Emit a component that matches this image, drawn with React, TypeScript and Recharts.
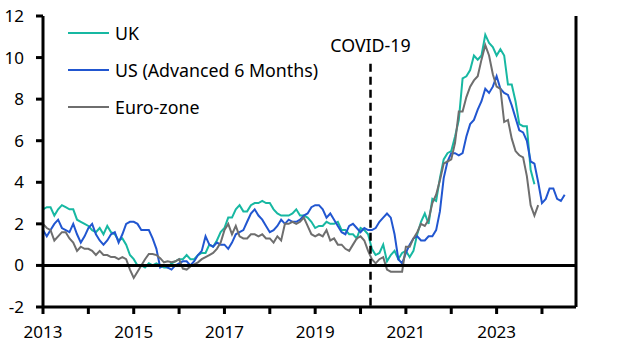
import React from "react";
import { Line, LineChart, ReferenceLine, XAxis, YAxis } from "recharts";

// monthly, first point = Jan 2013
const ukCpi = [
  2.7, 2.8, 2.8, 2.4, 2.7, 2.9, 2.8, 2.7, 2.7, 2.2, 2.1, 2.0,
  1.9, 1.7, 1.6, 1.8, 1.5, 1.9, 1.6, 1.5, 1.2, 1.3, 1.0, 0.5,
  0.3, 0.0, 0.0, -0.1, 0.1, 0.0, 0.1, 0.0, -0.1, -0.1, 0.1, 0.2,
  0.3, 0.3, 0.5, 0.3, 0.3, 0.5, 0.6, 0.6, 1.0, 0.9, 1.2, 1.6,
  1.8, 2.3, 2.3, 2.7, 2.9, 2.6, 2.6, 2.9, 3.0, 3.0, 3.1, 3.0,
  3.0, 2.7, 2.5, 2.4, 2.4, 2.4, 2.5, 2.7, 2.4, 2.4, 2.3, 2.1,
  1.8, 1.9, 1.9, 2.1, 2.0, 2.0, 2.1, 1.7, 1.7, 1.5, 1.5, 1.3,
  1.8, 1.7, 1.5, 0.8, 0.5, 0.6, 1.0, 0.2, 0.5, 0.7, 0.3, 0.6,
  0.7, 0.4, 0.7, 1.5, 2.1, 2.5, 2.0, 3.2, 3.1, 4.2, 5.1, 5.4,
  5.5, 6.2, 7.0, 9.0, 9.1, 9.4, 10.1, 9.9, 10.1, 11.1, 10.7, 10.5,
  10.1, 10.4, 10.1, 8.7, 8.7, 7.9, 6.8, 6.7, 6.7, 4.6, 3.9
];

const usCpiAdvanced = [
  1.7, 1.4, 1.7, 2.0, 2.2, 1.8, 1.7, 1.6, 2.0, 1.5, 1.1, 1.4,
  1.8, 2.0, 1.5, 1.2, 1.0, 1.2, 1.5, 1.6, 1.1, 1.5, 2.0, 2.1,
  2.1, 2.0, 1.7, 1.7, 1.7, 1.3, 0.8, -0.1, 0.0, -0.1, -0.2, 0.0,
  0.1, 0.2, 0.2, 0.0, 0.2, 0.5, 0.7, 1.4, 1.0, 0.9, 1.1, 1.0,
  1.0, 0.8, 1.1, 1.5, 1.6, 1.7, 2.1, 2.5, 2.7, 2.4, 2.2, 1.9,
  1.6, 1.7, 1.9, 2.2, 2.0, 2.2, 2.1, 2.1, 2.2, 2.4, 2.5, 2.8,
  2.9, 2.9, 2.7, 2.3, 2.5, 2.2, 1.9, 1.6, 1.5, 1.9, 2.0, 1.8,
  1.6, 1.8, 1.7, 1.7, 1.8, 2.1, 2.3, 2.5, 2.3, 1.5, 0.3, 0.1,
  0.6, 1.0, 1.3, 1.4, 1.2, 1.2, 1.4, 1.4, 1.7, 2.6, 4.2, 5.0,
  5.4, 5.4, 5.3, 5.4, 6.2, 6.8, 7.0, 7.5, 7.9, 8.5, 8.3, 8.6,
  9.1, 8.5, 8.3, 8.2, 7.7, 7.1, 6.5, 6.4, 6.0, 5.0, 4.9, 4.0,
  3.0, 3.2, 3.7, 3.7, 3.2, 3.1, 3.4
];

const ezHicp = [
  2.0, 1.8, 1.7, 1.2, 1.4, 1.6, 1.6, 1.3, 1.1, 0.7, 0.9, 0.8,
  0.8, 0.7, 0.5, 0.7, 0.5, 0.5, 0.4, 0.4, 0.3, 0.4, 0.3, -0.2,
  -0.6, -0.3, 0.0, 0.3, 0.55, 0.55, 0.5, 0.35, 0.15, 0.2, 0.15, 0.2,
  0.3, -0.15, -0.2, -0.05, 0.05, 0.15, 0.3, 0.4, 0.5, 0.6, 0.8, 1.1,
  1.7, 2.0, 1.5, 1.9, 1.4, 1.3, 1.3, 1.5, 1.5, 1.4, 1.5, 1.3,
  1.3, 1.1, 1.4, 1.2, 2.0, 2.0, 2.1, 2.0, 2.1, 2.3, 1.9, 1.5,
  1.4, 1.5, 1.4, 1.7, 1.2, 1.3, 1.0, 1.0, 0.8, 0.7, 1.0, 1.3,
  1.4, 1.2, 0.7, 0.3, 0.1, 0.3, 0.4, -0.2, -0.3, -0.3, -0.3, -0.3,
  0.9, 0.9, 1.3, 1.6, 2.0, 1.9, 2.2, 3.0, 3.4, 4.1, 4.9, 5.0,
  5.1, 5.9, 7.4, 7.4, 8.1, 8.6, 8.9, 9.1, 9.9, 10.6, 10.1, 9.2,
  8.6, 8.5, 6.9, 7.0, 6.1, 5.5, 5.3, 5.2, 4.3, 2.9, 2.4, 2.9
];

const startYear = 2013;
const yearTicks = [2013, 2014, 2015, 2016, 2017, 2018, 2019, 2020, 2021, 2022, 2023, 2024];
const yTicks = [-2, 0, 2, 4, 6, 8, 10, 12];
const covidDate = 2020.22;

const series = [
  { key: "uk", name: "UK", color: "#17b8a2" },
  { key: "us", name: "US (Advanced 6 Months)", color: "#2156d0" },
  { key: "ez", name: "Euro-zone", color: "#6e6e6e" }
];

const n = Math.max(ukCpi.length, usCpiAdvanced.length, ezHicp.length);
const data = Array.from({ length: n }, (_, i) => ({
  t: startYear + i / 12,
  uk: ukCpi[i],
  us: usCpiAdvanced[i],
  ez: ezHicp[i]
}));

const font = "'Noto Sans', sans-serif";
const tickStyle = { fill: "#000", fontSize: 17, fontFamily: font };
const axisStroke = { stroke: "#000", strokeWidth: 3 };

function LegendBox() {
  return (
    <div style={{ position: "absolute", left: 68, top: 14, fontFamily: font, fontSize: 17.8, color: "#000" }}>
      {series.map((s) => (
        <div key={s.key} style={{ display: "flex", alignItems: "center", height: 37 }}>
          <div style={{ width: 41, height: 2, background: s.color, marginRight: 6 }} />
          <span>{s.name}</span>
        </div>
      ))}
    </div>
  );
}

export default function App() {
  return (
    <div style={{ position: "absolute", left: 0, top: 0, width: 627, height: 352, background: "#fff" }}>
      <LineChart width={627} height={352} data={data} margin={{ top: 16, right: 0, bottom: 0, left: 0 }}>
        <XAxis
          dataKey="t"
          type="number"
          domain={[2013, 2024.75]}
          ticks={yearTicks}
          tickFormatter={(v: number) => (v % 2 === 1 ? String(v) : "")}
          interval={0}
          height={45}
          tickSize={7}
          tickMargin={12}
          axisLine={axisStroke}
          tickLine={axisStroke}
          tick={tickStyle}
        />
        <YAxis
          yAxisId="left"
          domain={[-2, 12]}
          ticks={yTicks}
          width={43}
          tickSize={7}
          tickMargin={12}
          axisLine={axisStroke}
          tickLine={axisStroke}
          tick={tickStyle}
        />
        <YAxis
          yAxisId="right"
          orientation="right"
          domain={[-2, 12]}
          ticks={yTicks}
          width={51}
          tickSize={7}
          tickMargin={12}
          axisLine={axisStroke}
          tickLine={axisStroke}
          tick={tickStyle}
        />
        {series.map((s) => (
          <Line
            key={s.key}
            yAxisId="left"
            dataKey={s.key}
            name={s.name}
            stroke={s.color}
            strokeWidth={2}
            dot={false}
            activeDot={false}
            isAnimationActive={false}
          />
        ))}
        <ReferenceLine yAxisId="left" y={0} stroke="#000" strokeWidth={3} />
        <ReferenceLine
          yAxisId="left"
          segment={[{ x: covidDate, y: 9.7 }, { x: covidDate, y: -2 }]}
          stroke="#000"
          strokeWidth={2.5}
          strokeDasharray="8 5"
          label={{ value: "COVID-19", position: "top", offset: 12, fill: "#000", fontSize: 17.8, fontFamily: font }}
        />
      </LineChart>
      <LegendBox />
    </div>
  );
}
